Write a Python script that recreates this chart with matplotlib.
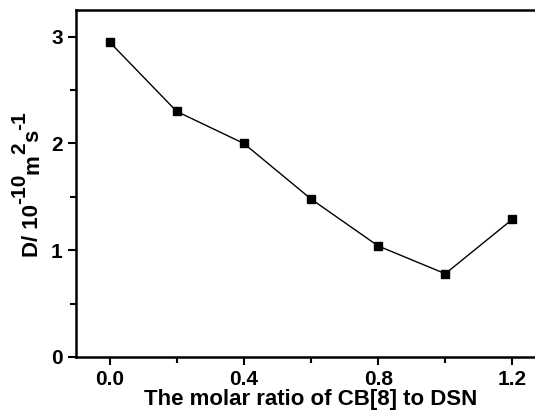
import matplotlib
matplotlib.use("Agg")
import matplotlib.pyplot as plt

ratio = [0.0, 0.2, 0.4, 0.6, 0.8, 1.0, 1.2]
diff_coef = [2.95, 2.30, 2.00, 1.48, 1.04, 0.78, 1.29]

# y label pieces: (text, is superscript)
ylabel_parts = [("D/ 10", False), ("-10", True), ("m", False), ("2", True),
                ("s", False), ("-1", True)]

plt.rcParams["font.family"] = "Liberation Sans"
plt.rcParams["font.weight"] = "bold"

fig = plt.figure(figsize=(5.35, 4.13), dpi=100)
W, H = 535, 413
# right spine sits off the edge of the picture, like the original
ax = fig.add_axes([76 / W, 56 / H, 470 / W, 347 / H])

ax.plot(ratio, diff_coef, color="black", lw=1.0, marker="s", ms=6)

ax.set_xlim(-0.1, 1.3)
ax.set_ylim(0, 3.25)
ax.set_xticks([0.0, 0.4, 0.8, 1.2])
ax.set_xticklabels(["0.0", "0.4", "0.8", "1.2"])
ax.set_xticks([0.2, 0.6, 1.0], minor=True)
ax.set_yticks([0, 1, 2, 3])
ax.set_yticks([0.5, 1.5, 2.5], minor=True)

ax.tick_params(which="both", direction="out", width=1.5, labelsize=15)
ax.tick_params(which="major", length=6)
ax.tick_params(which="minor", length=4)
for s in ax.spines.values():
    s.set_linewidth(1.8)

ax.set_xlabel("The molar ratio of CB[8] to DSN", fontsize=16, fontweight="bold", labelpad=0)

# build the rotated y label piece by piece so superscripts stay big, like Origin does
renderer = fig.canvas.get_renderer()
ypos = H - 257
for txt, sup in ylabel_parts:
    xpos = 25 if sup else 38
    t = fig.text(xpos / W, ypos / H, txt, rotation=90, rotation_mode="anchor",
                 ha="left", va="baseline", fontsize=15 if sup else 16, fontweight="bold")
    ypos += t.get_window_extent(renderer).height

fig.savefig("out.png", dpi=100)
